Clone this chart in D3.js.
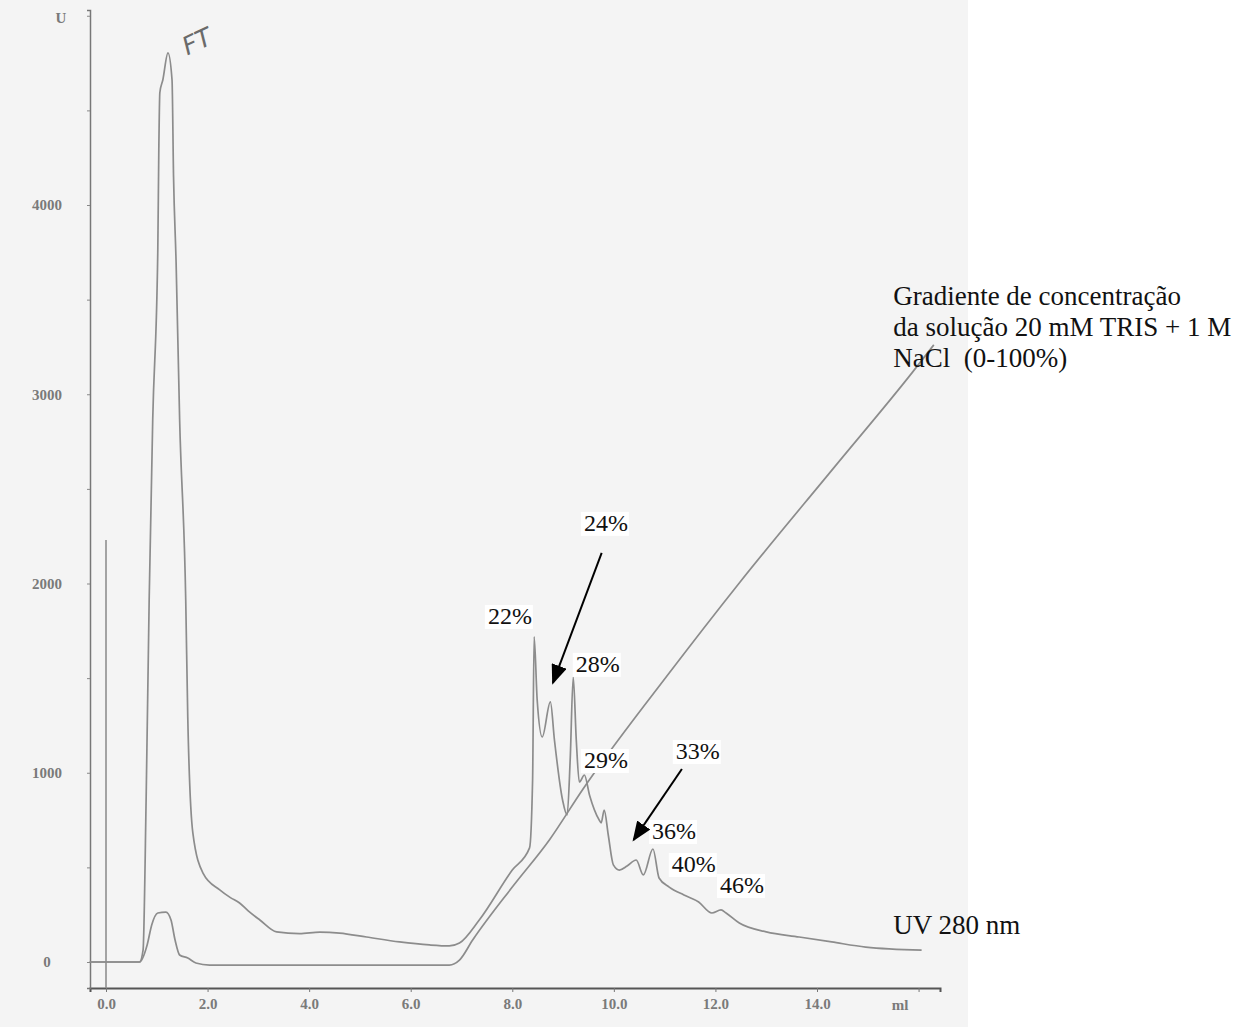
<!DOCTYPE html>
<html>
<head>
<meta charset="utf-8">
<script src="https://cdn.jsdelivr.net/npm/d3@7"></script>
<style>
  body { margin: 0; background: #fff; }
  svg { display: block; }
</style>
</head>
<body>
<div id="chart"></div>
<script>
// UV 280 nm trace (volume in ml, absorbance in mAU "U")
const uvVolume = [-0.32, 0.66, 0.73, 0.79, 0.85, 0.92, 1.02, 1.04, 1.06, 1.12, 1.22, 1.30, 1.33, 1.38, 1.45, 1.57, 1.61, 1.71, 1.91, 2.24, 2.45, 2.63, 2.80, 3.03, 3.36, 3.81, 4.21, 4.60, 5.13, 5.78, 6.37, 6.76, 6.96, 7.35, 8.00, 8.34, 8.40, 8.43, 8.49, 8.59, 8.75, 8.83, 8.99, 9.08, 9.14, 9.20, 9.26, 9.32, 9.42, 9.52, 9.71, 9.75, 9.81, 9.89, 9.99, 10.11, 10.26, 10.44, 10.58, 10.77, 10.89, 11.09, 11.38, 11.67, 11.93, 12.11, 12.21, 12.47, 13.00, 13.65, 14.29, 14.96, 16.06]
const uvValue  = [0, 0, 63, 856, 1913, 2865, 3763, 4292, 4593, 4662, 4804, 4662, 4150, 3700, 2865, 1913, 1295, 682, 470, 381, 340, 312, 270, 222, 159, 150, 158, 153, 132, 106, 90, 85, 100, 222, 486, 603, 962, 1718, 1385, 1189, 1374, 1173, 856, 777, 1068, 1506, 1173, 951, 988, 883, 751, 735, 803, 671, 513, 486, 507, 539, 460, 597, 444, 396, 354, 317, 259, 275, 259, 206, 159, 132, 106, 79, 63]

// salt gradient trace (20 mM TRIS + 1 M NaCl, 0-100%)
const gradVolume = [-0.32, 0.66, 0.81, 0.90, 1.02, 1.18, 1.28, 1.36, 1.45, 1.61, 1.77, 2.04, 6.76, 6.96, 7.22, 8.00, 8.73, 9.38, 11.09, 12.47, 14.33, 15.87, 16.30]
const gradValue  = [0, 0, 90, 196, 259, 264, 222, 116, 37, 21, -5, -16, -16, 10, 116, 396, 645, 909, 1527, 2003, 2611, 3113, 3261]

// injection mark
const injection = { volume: 0, top: 2230 }

const xTicks = [0, 2, 4, 6, 8, 10, 12, 14, 16]
const yTicks = [0, 1000, 2000, 3000, 4000]
const yMinorTicks = [0, 500, 1000, 1500, 2000, 2500, 3000, 3500, 4000, 4500, 5000]

// fraction labels (% buffer B), anchored in data units
const peakLabels = ["22%", "24%", "28%", "29%", "33%", "36%", "40%", "46%"]
const peakLabelVolume = [7.52, 9.41, 9.25, 9.41, 11.22, 10.75, 11.14, 12.09]
const peakLabelValue  = [1786, 2278, 1533, 1025, 1073, 650, 476, 365]

// arrows: [from volume, from value, to volume, to value]
const arrows = [[9.76, 2162, 8.80, 1475], [11.34, 1020, 10.39, 645]]

const gradientText = ["Gradiente de concentração", "da solução 20 mM TRIS + 1 M", "NaCl  (0-100%)"]

const width = 1250, height = 1027

const x = d3.scaleLinear().domain([0, 14]).range([106, 817])
const y = d3.scaleLinear().domain([0, 4000]).range([962, 205])

const xa = x.copy().domain([x.invert(90), x.invert(940)]).range([90, 940])
const ya = y.copy().domain([y.invert(988), y.invert(10)]).range([988, 10])

const svg = d3.select("#chart").append("svg")
  .attr("width", width)
  .attr("height", height)
  .attr("viewBox", [0, 0, width, height])

// scanned paper
svg.append("rect")
  .attr("x", 0).attr("y", 0)
  .attr("width", 968).attr("height", height)
  .attr("fill", "#f4f4f4")

const serif = "'Liberation Serif', 'Times New Roman', serif"

// axes
svg.append("g")
  .attr("transform", "translate(0,988)")
  .call(d3.axisBottom(xa).tickValues(xTicks).tickSize(4)
    .tickFormat(d => d <= 14 ? d.toFixed(1) : ""))
  .call(g => g.select(".domain").attr("stroke", "#555").attr("stroke-width", 2))
  .call(g => g.selectAll(".tick line").attr("stroke", "#777"))
  .call(g => g.selectAll(".tick text")
    .attr("dy", "0.95em")
    .attr("font-family", serif).attr("font-size", 15).attr("font-weight", "bold")
    .attr("fill", "#7a7a7a"))

svg.append("text")
  .attr("x", 900).attr("y", 1010)
  .attr("text-anchor", "middle")
  .attr("font-family", serif).attr("font-size", 15).attr("font-weight", "bold")
  .attr("fill", "#7a7a7a")
  .text("ml")

svg.append("g")
  .attr("transform", "translate(90,0)")
  .call(d3.axisLeft(ya).tickValues(yMinorTicks).tickSize(3).tickFormat(""))
  .call(g => g.select(".domain").attr("stroke", "#777").attr("stroke-width", 1.5))
  .call(g => g.selectAll(".tick line").attr("stroke", "#888"))

svg.append("g")
  .selectAll("text")
  .data(yTicks)
  .join("text")
  .attr("x", 47)
  .attr("y", d => y(d))
  .attr("dy", "0.35em")
  .attr("text-anchor", "middle")
  .attr("font-family", serif).attr("font-size", 15).attr("font-weight", "bold")
  .attr("fill", "#7a7a7a")
  .text(d => d)

svg.append("text")
  .attr("x", 61).attr("y", 23)
  .attr("text-anchor", "middle")
  .attr("font-family", serif).attr("font-size", 15).attr("font-weight", "bold")
  .attr("fill", "#7a7a7a")
  .text("U")

// injection mark
svg.append("line")
  .attr("x1", x(injection.volume)).attr("x2", x(injection.volume))
  .attr("y1", y(injection.top)).attr("y2", 988)
  .attr("stroke", "#888").attr("stroke-width", 1.5)

const line = d3.line()
  .x(d => x(d[0]))
  .y(d => y(d[1]))
  .curve(d3.curveMonotoneX)

const gradData = gradVolume.map((v, i) => [v, gradValue[i]])
const uvData = uvVolume.map((v, i) => [v, uvValue[i]])

svg.append("path")
  .datum(gradData)
  .attr("d", line)
  .attr("fill", "none")
  .attr("stroke", "#8c8c8c")
  .attr("stroke-width", 1.7)

svg.append("path")
  .datum(uvData)
  .attr("d", line)
  .attr("fill", "none")
  .attr("stroke", "#8c8c8c")
  .attr("stroke-width", 1.7)

// handwritten "FT"
svg.append("text")
  .attr("transform", `translate(${x(1.6)},${y(4790)}) rotate(-25)`)
  .attr("font-family", "'DejaVu Sans', sans-serif")
  .attr("font-size", 25).attr("font-style", "italic")
  .attr("fill", "#6a6a6a")
  .text("FT")

// percent labels with pasted white boxes
const lab = svg.append("g")
  .selectAll("g")
  .data(peakLabels)
  .join("g")
  .attr("transform", (d, i) => `translate(${x(peakLabelVolume[i])},${y(peakLabelValue[i])})`)

lab.append("rect")
  .attr("x", -3).attr("y", -19)
  .attr("width", 48).attr("height", 24)
  .attr("fill", "#fff")

lab.append("text")
  .attr("font-family", serif).attr("font-size", 24)
  .attr("fill", "#111")
  .text(d => d)

// arrows
const defs = svg.append("defs")
defs.append("marker")
  .attr("id", "head")
  .attr("viewBox", "0 0 10 8")
  .attr("refX", 9).attr("refY", 4)
  .attr("markerWidth", 10).attr("markerHeight", 8)
  .attr("markerUnits", "strokeWidth")
  .attr("orient", "auto")
  .append("path")
  .attr("d", "M0,0L10,4L0,8z")
  .attr("fill", "#000")

svg.append("g")
  .selectAll("line")
  .data(arrows)
  .join("line")
  .attr("x1", d => x(d[0])).attr("y1", d => y(d[1]))
  .attr("x2", d => x(d[2])).attr("y2", d => y(d[3]))
  .attr("stroke", "#000").attr("stroke-width", 2)
  .attr("marker-end", "url(#head)")

// gradient legend text
svg.append("g")
  .selectAll("text")
  .data(gradientText)
  .join("text")
  .attr("x", x(15.5))
  .attr("y", (d, i) => y(3451) - 4 + i * 31)
  .attr("font-family", serif).attr("font-size", 27)
  .attr("fill", "#111")
  .style("white-space", "pre")
  .text(d => d)

svg.append("text")
  .attr("x", x(15.5)).attr("y", y(148))
  .attr("font-family", serif).attr("font-size", 27)
  .attr("fill", "#111")
  .text("UV 280 nm")
</script>
</body>
</html>
